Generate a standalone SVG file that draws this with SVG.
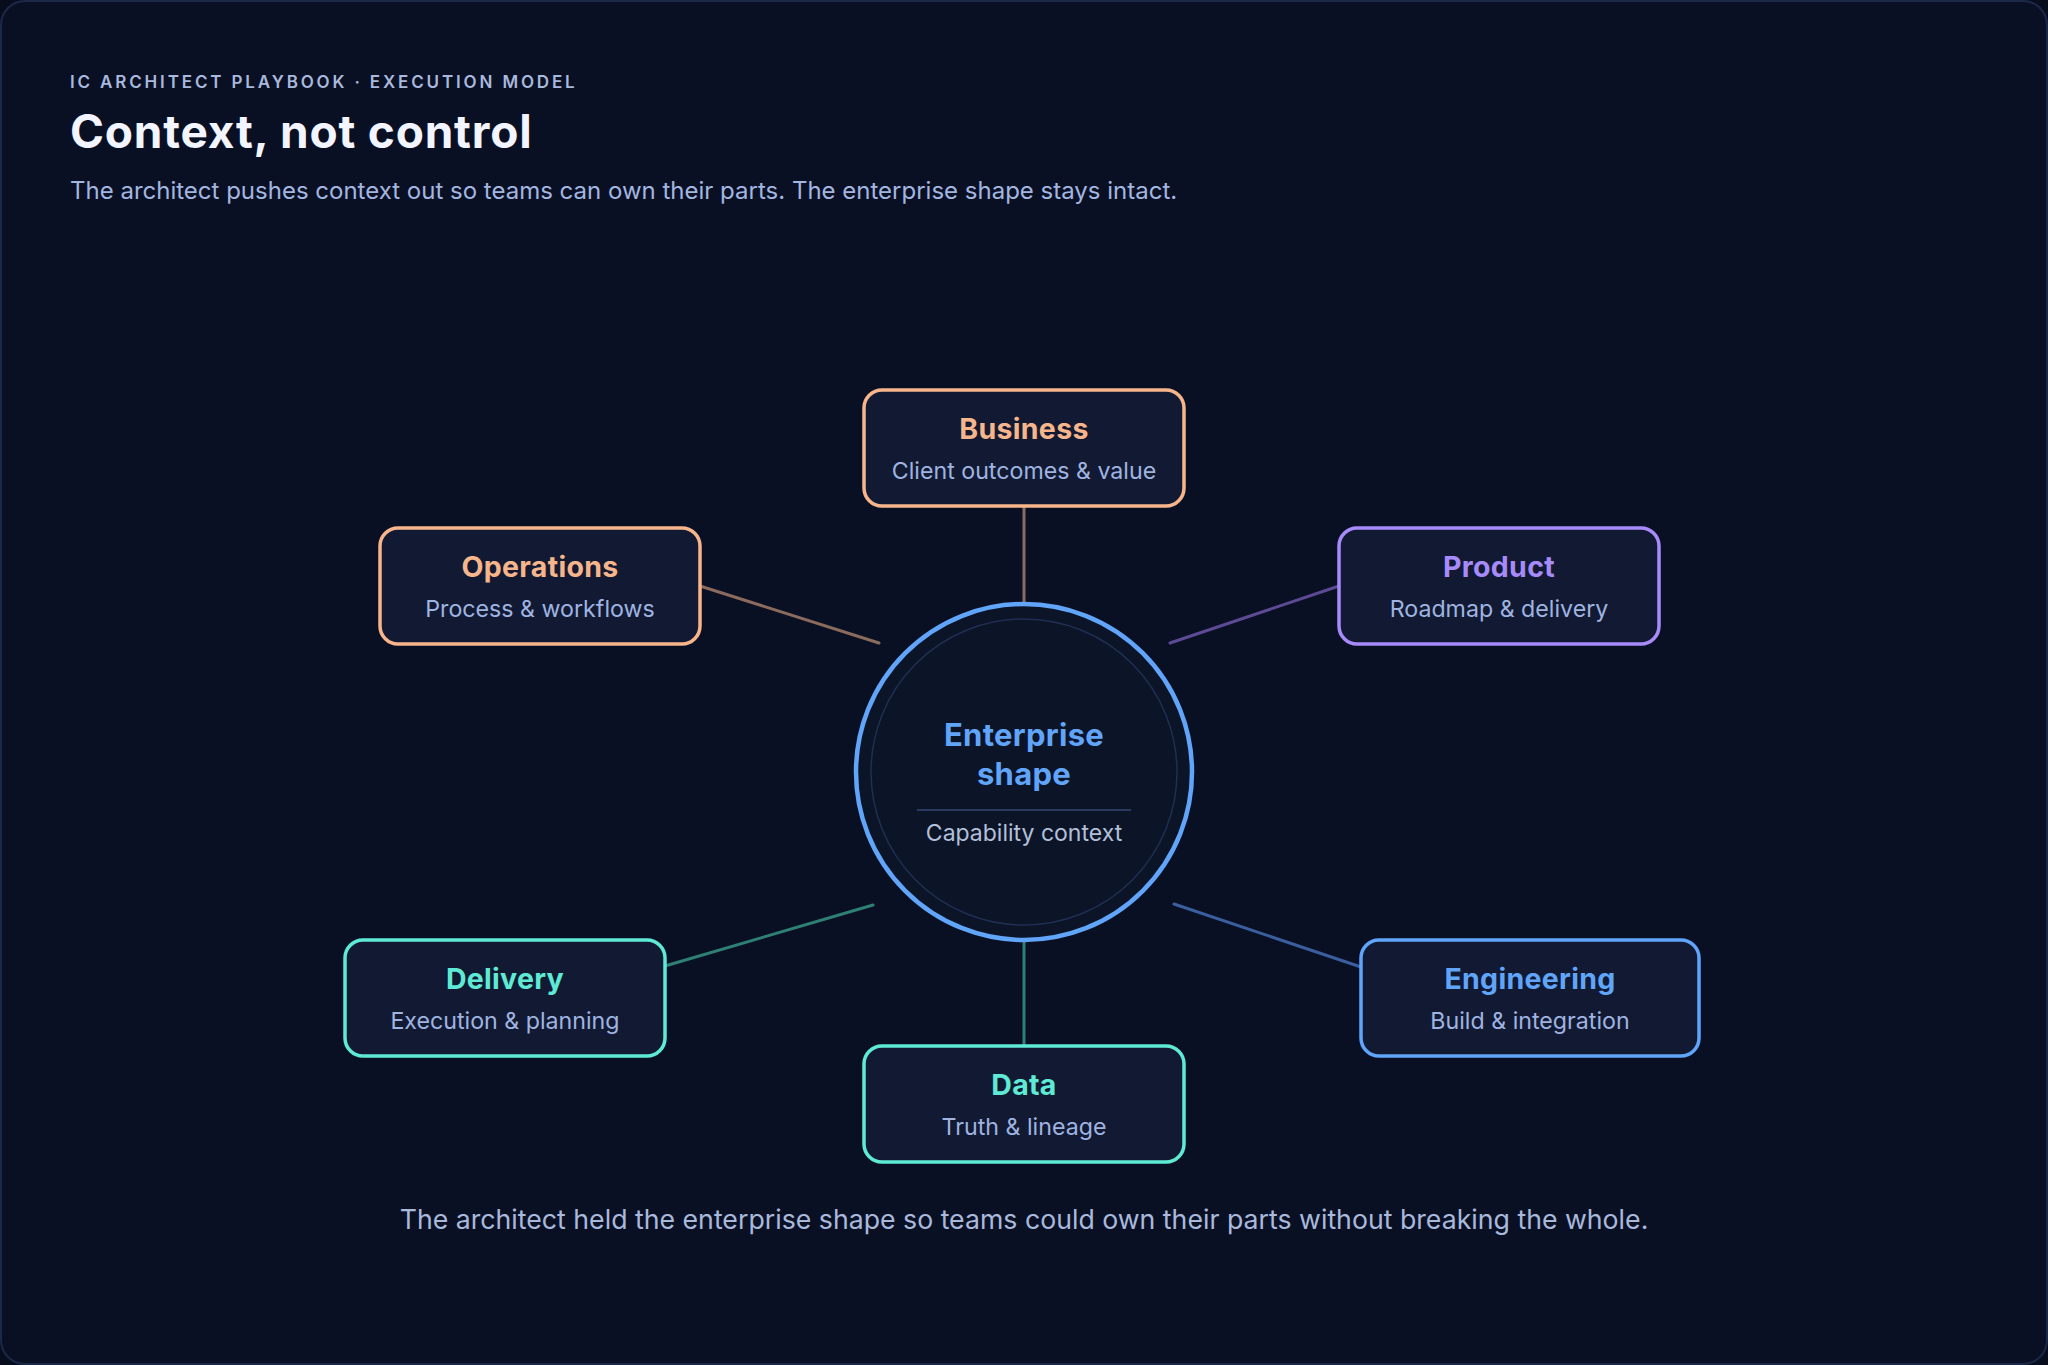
<svg xmlns="http://www.w3.org/2000/svg" width="2048" height="1365" viewBox="0 0 2048 1365">
<style>
.eyebrow{font-family:Inter,"Liberation Sans",sans-serif;font-size:17px;font-weight:600;letter-spacing:2.85px;fill:#a9b9dd}
.h1{font-family:Inter,"Liberation Sans",sans-serif;font-size:46px;font-weight:700;fill:#f2f5ff;letter-spacing:0.8px}
.lede{font-family:Inter,"Liberation Sans",sans-serif;font-size:24px;fill:#a3b6e0}
.foot{font-family:Inter,"Liberation Sans",sans-serif;font-size:26.7px;fill:#a9b9dc}
.box{fill:#121a33;stroke-width:3.5}
.t{font-family:Inter,"Liberation Sans",sans-serif;font-size:28.5px;font-weight:700;text-anchor:middle;letter-spacing:0.3px}
.s{font-family:Inter,"Liberation Sans",sans-serif;font-size:23.2px;fill:#9fb4e0;text-anchor:middle}
.orange{stroke:#f7b58c}.orangeT{fill:#f7b58c}
.violet{stroke:#a78bfa}.violetT{fill:#a78bfa}
.teal{stroke:#5eead4}.tealT{fill:#5eead4}
.blue{stroke:#60a5fa}.blueT{fill:#60a5fa}
.conn line{stroke-width:3;stroke-linecap:round}
</style>
<rect x="0" y="0" width="2048" height="1365" fill="#080d1d"/>
<rect x="1" y="1" width="2046" height="1363" rx="24" fill="#0a1024" stroke="#1c2847" stroke-width="2"/>
<text class="eyebrow" x="70" y="88">IC ARCHITECT PLAYBOOK · EXECUTION MODEL</text>
<text class="h1" x="70" y="148">Context, not control</text>
<text class="lede" x="70" y="199">The architect pushes context out so teams can own their parts. The enterprise shape stays intact.</text>
<g id="connectors" class="conn">
<line x1="1024" y1="506" x2="1024" y2="602" stroke="#8a6b5e"/>
<line x1="700" y1="586" x2="879" y2="643" stroke="#8a6b5e"/>
<line x1="1339" y1="586" x2="1170" y2="643" stroke="#5c4a94"/>
<line x1="665" y1="966" x2="873" y2="905" stroke="#2e7f74"/>
<line x1="1024" y1="941" x2="1024" y2="1046" stroke="#2e7f74"/>
<line x1="1174" y1="904" x2="1361" y2="967" stroke="#3b5e9e"/>
</g>
<g id="center">
<circle cx="1024" cy="772" r="168" fill="#0c1428" stroke="#60a5fa" stroke-width="4.5"/>
<circle cx="1024" cy="772" r="153" fill="none" stroke="#1f2f52" stroke-width="1.5"/>
<text class="t blueT" x="1024" y="746" style="font-size:31px">Enterprise</text>
<text class="t blueT" x="1024" y="785" style="font-size:31px">shape</text>
<line x1="917" y1="810" x2="1131" y2="810" stroke="#2a3a5e" stroke-width="2"/>
<text class="s" x="1024" y="841" style="font-size:23px;fill:#b3c0da">Capability context</text>
</g>
<g id="business">
<rect class="box orange" x="864" y="390" width="320" height="116" rx="18"/>
<text class="t orangeT" x="1024" y="439">Business</text>
<text class="s" x="1024" y="479">Client outcomes &amp; value</text>
</g>
<g id="operations">
<rect class="box orange" x="380" y="528" width="320" height="116" rx="18"/>
<text class="t orangeT" x="540" y="577">Operations</text>
<text class="s" x="540" y="617">Process &amp; workflows</text>
</g>
<g id="product">
<rect class="box violet" x="1339" y="528" width="320" height="116" rx="18"/>
<text class="t violetT" x="1499" y="577">Product</text>
<text class="s" x="1499" y="617">Roadmap &amp; delivery</text>
</g>
<g id="delivery">
<rect class="box teal" x="345" y="940" width="320" height="116" rx="18"/>
<text class="t tealT" x="505" y="989">Delivery</text>
<text class="s" x="505" y="1029">Execution &amp; planning</text>
</g>
<g id="engineering">
<rect class="box blue" x="1361" y="940" width="338" height="116" rx="18"/>
<text class="t blueT" x="1530" y="989">Engineering</text>
<text class="s" x="1530" y="1029">Build &amp; integration</text>
</g>
<g id="data">
<rect class="box teal" x="864" y="1046" width="320" height="116" rx="18"/>
<text class="t tealT" x="1024" y="1095">Data</text>
<text class="s" x="1024" y="1135">Truth &amp; lineage</text>
</g>
<text class="foot" x="1024" y="1229" text-anchor="middle">The architect held the enterprise shape so teams could own their parts without breaking the whole.</text>
</svg>
